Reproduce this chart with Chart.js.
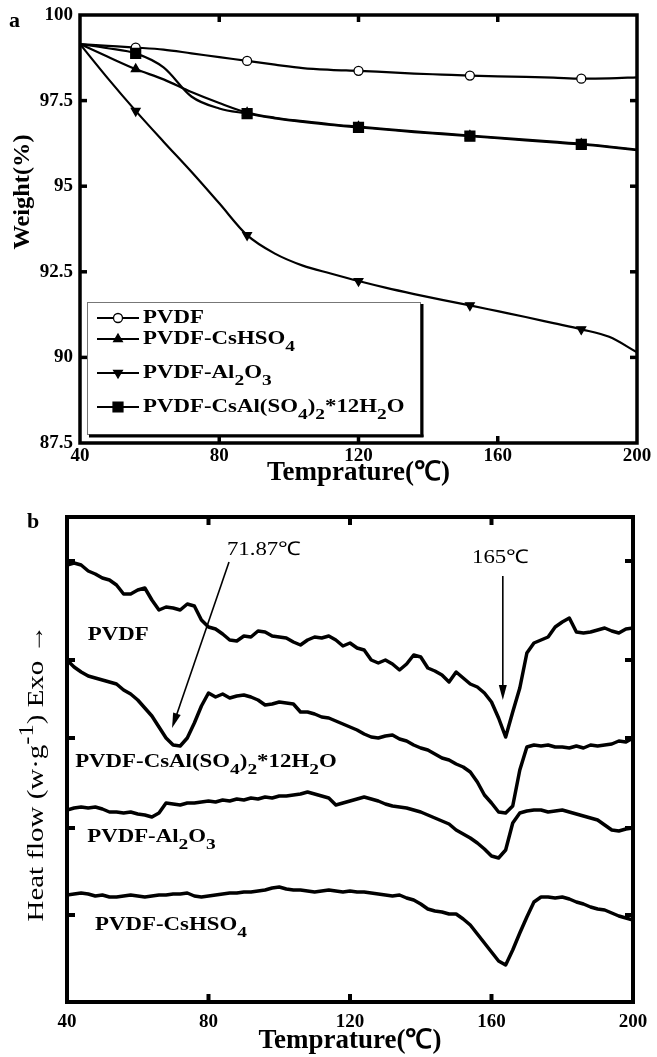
<!DOCTYPE html>
<html><head><meta charset="utf-8">
<script src="https://cdn.jsdelivr.net/npm/chart.js@4.4.0/dist/chart.umd.min.js"></script>
<style>
html,body{margin:0;padding:0;background:#fff;}
#wa{position:absolute;left:0;top:0;width:657px;height:500px;}
#wb{position:absolute;left:0;top:500px;width:657px;height:557px;}
</style></head><body>
<div id="wa"><canvas id="ca" width="657" height="500"></canvas></div>
<div id="wb"><canvas id="cb" width="657" height="557"></canvas></div>
<script>
// ---------- Panel a: TGA (Weight %) ----------
const tempA = [40,48,56,64,72,80,88,96,104,112,120,128,136,144,152,160,168,176,184,192,200];
const wPVDF   = [99.15,99.10,99.05,98.99,98.88,98.77,98.66,98.55,98.45,98.40,98.37,98.33,98.29,98.26,98.23,98.21,98.19,98.17,98.14,98.15,98.18];
const wCsHSO4 = [99.15,98.78,98.42,98.12,97.75,97.43,97.15,97.00,96.90,96.81,96.74,96.67,96.60,96.54,96.48,96.42,96.36,96.30,96.24,96.16,96.07];
const wAl2O3  = [99.15,98.15,97.20,96.30,95.42,94.50,93.57,93.03,92.68,92.45,92.23,92.03,91.85,91.68,91.52,91.35,91.18,91.00,90.82,90.60,90.15];
const wCsAl   = [99.15,99.03,98.88,98.47,97.62,97.27,97.12,96.98,96.88,96.79,96.72,96.65,96.58,96.52,96.46,96.40,96.34,96.28,96.22,96.14,96.05];
const markerTemps = [56,88,120,152,184];
const xTickVals = [40,80,120,160,200];
const yTickValsA = [87.5,90,92.5,95,97.5,100];

// ---------- Panel b: DSC (heat flow, arbitrary offset units) ----------
const tempB = [40,42,44,46,48,50,52,54,56,58,60,62,64,66,68,70,72,74,76,78,
  80,82,84,86,88,90,92,94,96,98,100,102,104,106,108,110,112,114,116,118,
  120,122,124,126,128,130,132,134,136,138,140,142,144,146,148,150,152,154,156,158,
  160,162,164,166,168,170,172,174,176,178,180,182,184,186,188,190,192,194,196,198,200];
const hfPVDF = [87.4,87.8,87.4,86.2,85.6,84.8,84.4,83.4,81.6,81.6,
  82.4,82.8,80.4,78.4,79.0,78.8,78.4,79.6,79.2,76.4,
  75.0,74.6,73.6,72.4,72.2,73.2,73.0,74.2,74.0,73.2,
  73.0,72.8,72.0,71.4,72.4,73.0,72.8,73.2,72.4,71.2,
  71.8,70.8,70.4,68.4,67.8,68.4,67.6,66.4,67.6,69.4,
  69.0,66.8,66.2,65.4,64.0,66.0,64.8,63.6,63.0,61.8,
  60.0,56.8,53.0,58.0,62.8,69.8,71.8,72.4,73.0,75.0,
  76.0,76.8,74.0,73.8,74.0,74.4,74.8,74.2,73.8,74.6,74.8];
const hfCsAl = [68.4,67.0,66.0,65.2,64.8,64.4,64.0,63.6,62.4,61.6,
  60.4,58.8,57.2,55.0,52.8,51.4,51.2,52.8,55.8,59.2,
  61.8,61.0,61.6,60.8,61.2,61.4,61.0,60.4,59.4,59.6,
  60.0,59.8,59.6,58.0,58.0,57.6,57.0,56.8,56.2,55.6,
  55.0,54.4,53.6,53.0,52.8,53.2,53.4,52.6,52.2,51.4,
  50.8,50.4,49.6,48.8,48.4,47.6,47.0,46.0,44.0,41.4,
  39.8,38.0,37.8,39.2,46.4,51.0,51.4,51.2,51.4,51.0,
  51.0,50.8,51.2,50.8,51.4,51.2,51.4,51.6,52.2,52.0,52.8];
const hfAl2O3 = [38.4,38.8,39.0,38.8,39.0,38.6,38.0,38.0,37.8,38.0,
  37.6,37.4,37.0,37.8,39.8,39.6,39.4,39.8,39.8,40.0,
  40.2,40.0,40.4,40.2,40.6,40.4,40.8,40.6,41.0,40.8,
  41.2,41.2,41.4,41.6,42.0,41.6,41.2,40.8,39.4,39.8,
  40.2,40.6,41.0,40.6,40.2,39.6,39.2,39.0,38.8,38.4,
  38.0,37.4,36.8,36.2,35.6,34.4,33.6,32.8,31.8,30.6,
  29.2,28.8,30.4,35.8,37.8,38.2,38.4,38.4,38.0,38.2,
  38.4,38.0,37.6,37.2,36.8,36.4,35.4,34.4,34.2,34.6,34.8];
const hfCsHSO4 = [21.4,21.6,21.8,21.6,21.2,21.4,21.0,21.0,21.2,21.4,
  21.2,21.0,21.2,21.4,21.4,21.6,21.6,21.8,21.2,21.0,
  21.2,21.4,21.6,21.8,21.8,22.0,22.0,22.2,22.4,22.8,
  23.0,22.6,22.4,22.4,22.2,22.0,22.2,22.4,22.2,22.0,
  22.2,22.0,22.0,21.8,21.6,21.4,21.2,21.4,20.8,20.4,
  19.6,18.6,18.2,18.0,17.6,17.6,16.6,15.4,13.6,11.8,
  10.0,8.2,7.4,10.4,13.8,17.0,20.0,21.0,21.0,20.8,
  21.0,20.6,20.0,19.6,19.0,18.6,18.4,17.8,17.2,16.8,16.4];
const yTickValsB = [17.4,34.8,52.8,68.4,88.2];

// annotation anchors (data units of panel b)
const arrow1 = {from:[85.8,88.0], to:[69.7,54.8], label:'71.87℃', labelAt:[85.2,90.4]};
const arrow2 = {from:[163.2,85.2], to:[163.2,60.4], label:'165℃', labelAt:[154.5,88.8]};

// ---------- text helpers ----------
const SERIF = '"Liberation Serif", "Times New Roman", serif';
function partSize(p, size){ return (p.sub||p.sup) ? size*0.85 : size; }
function richWidth(ctx, parts, size, weight){
  let w = 0;
  parts.forEach(p => { ctx.font = weight+' '+partSize(p,size)+'px '+SERIF; w += ctx.measureText(p.t).width; });
  return w;
}
function drawRich(ctx, parts, x, y, o){
  ctx.save();
  ctx.translate(x, y);
  if (o.rot) ctx.rotate(-Math.PI/2);
  const w = richWidth(ctx, parts, o.size, o.weight);
  const sx = o.fit ? o.fit / w : (o.sx || 1);
  ctx.scale(sx, 1);
  let cx = o.align === 'center' ? -w/2 : 0;
  ctx.textBaseline = 'middle'; ctx.textAlign = 'left'; ctx.fillStyle = '#000';
  parts.forEach(p => {
    ctx.font = o.weight+' '+partSize(p,o.size)+'px '+SERIF;
    const dy = p.sub ? o.size*0.45 : (p.sup ? -o.size*0.38 : 0);
    ctx.fillText(p.t, cx, dy);
    cx += ctx.measureText(p.t).width;
  });
  ctx.restore();
}
function line(ctx, x1, y1, x2, y2){ ctx.beginPath(); ctx.moveTo(x1,y1); ctx.lineTo(x2,y2); ctx.stroke(); }
function drawFrame(chart, fw, tl, tw){
  const {ctx, chartArea:{left,right,top,bottom}} = chart;
  const xs = chart.scales.x, ys = chart.scales.y;
  ctx.save();
  ctx.strokeStyle = '#000'; ctx.lineCap = 'butt';
  ctx.lineWidth = tw;
  xs.ticks.forEach(t => {
    if (t.value <= xs.min || t.value >= xs.max) return;
    const p = xs.getPixelForValue(t.value);
    line(ctx, p, bottom, p, bottom - tl); line(ctx, p, top, p, top + tl);
  });
  ys.ticks.forEach(t => {
    if (t.value <= ys.min || t.value >= ys.max) return;
    const p = ys.getPixelForValue(t.value);
    line(ctx, left, p, left + tl, p); line(ctx, right, p, right - tl, p);
  });
  ctx.lineWidth = fw;
  ctx.strokeRect(left, top, right-left, bottom-top);
  ctx.restore();
}
function zeroPad(s){ s.paddingTop = 0; s.paddingBottom = 0; s.paddingLeft = 0; s.paddingRight = 0; }

// ---------- Panel a chart ----------
const seriesA = [
  {parts:[{t:'PVDF'}], data:wPVDF, style:'circle', rot:0, r:4.5, fill:'#fff', order:3},
  {parts:[{t:'PVDF-CsHSO'},{t:'4',sub:1}], data:wCsHSO4, style:'triangle', rot:0, r:5, fill:'#000', order:2},
  {parts:[{t:'PVDF-Al'},{t:'2',sub:1},{t:'O'},{t:'3',sub:1}], data:wAl2O3, style:'triangle', rot:180, r:5, fill:'#000', order:1},
  {parts:[{t:'PVDF-CsAl(SO'},{t:'4',sub:1},{t:')'},{t:'2',sub:1},{t:'*12H'},{t:'2',sub:1},{t:'O'}], data:wCsAl, style:'rect', rot:0, r:7, fill:'#000', order:0}
];
const legendRowsY = [318, 339, 373, 407];

const pluginA = {
  id: 'annotA',
  afterDatasetsDraw(chart){
    const ctx = chart.ctx;
    drawFrame(chart, 3.5, 7, 3.5);
    ctx.save();
    ctx.fillStyle = '#fff'; ctx.fillRect(87, 302, 335, 134);
    ctx.strokeStyle = '#777'; ctx.lineWidth = 1; ctx.strokeRect(87.5, 302.5, 333, 132);
    ctx.strokeStyle = '#000'; ctx.lineWidth = 3;
    line(ctx, 422, 304, 422, 437); line(ctx, 89, 436, 423.5, 436);
    seriesA.forEach((s, i) => {
      const y = legendRowsY[i];
      ctx.strokeStyle = '#000'; ctx.lineWidth = 2.2;
      line(ctx, 97, y, 139, y);
      ctx.fillStyle = s.fill; ctx.strokeStyle = '#000'; ctx.lineWidth = 1.3;
      Chart.helpers.drawPoint(ctx, {pointStyle:s.style, rotation:s.rot, radius:s.r, borderWidth:1.3}, 118, y);
      drawRich(ctx, s.parts, 143, y, {size:18, weight:'bold', sx:1.27});
    });
    ctx.restore();
    drawRich(ctx, [{t:'Weight(%)'}], 23, 192, {size:23, weight:'bold', rot:true, align:'center', fit:115});
    drawRich(ctx, [{t:'a'}], 9, 21, {size:22, weight:'bold'});
  }
};

new Chart(document.getElementById('ca'), {
  type: 'line',
  data: {
    datasets: seriesA.map(s => ({
      data: tempA.map((t,i) => ({x:t, y:s.data[i]})),
      borderColor: '#000', borderWidth: 2.2, backgroundColor: s.fill,
      pointStyle: s.style, pointRotation: s.rot,
      pointBorderColor: '#000', pointBorderWidth: 1.3,
      pointRadius: c => markerTemps.includes(tempA[c.dataIndex]) ? s.r : 0,
      cubicInterpolationMode: 'monotone', fill: false, order: s.order
    }))
  },
  options: {
    responsive: false, animation: false, events: [],
    layout: {padding: {top:15, right:20, left:0, bottom:0}},
    plugins: {legend:{display:false}, tooltip:{enabled:false}},
    scales: {
      x: {
        type:'linear', min:40, max:200,
        grid:{display:false, drawTicks:false}, border:{display:false},
        afterBuildTicks: s => { s.ticks = xTickVals.map(v => ({value:v})); },
        ticks:{padding:2, color:'#000', font:{family:SERIF, size:19, weight:'bold'}},
        title:{display:true, text:'Temprature(℃)', color:'#000', padding:{top:0,bottom:11}, font:{family:SERIF, size:27, weight:'bold'}},
        afterFit: s => { s.height = 57; zeroPad(s); }
      },
      y: {
        min:87.5, max:100,
        grid:{display:false, drawTicks:false}, border:{display:false},
        afterBuildTicks: s => { s.ticks = yTickValsA.map(v => ({value:v})); },
        ticks:{padding:7, color:'#000', font:{family:SERIF, size:19, weight:'bold'}},
        afterFit: s => { s.width = 80; zeroPad(s); }
      }
    }
  },
  plugins: [pluginA]
});

// ---------- Panel b chart ----------
const seriesB = [
  {data:hfPVDF, parts:[{t:'PVDF'}], at:[45.9,73.4]},
  {data:hfCsAl, parts:[{t:'PVDF-CsAl(SO'},{t:'4',sub:1},{t:')'},{t:'2',sub:1},{t:'*12H'},{t:'2',sub:1},{t:'O'}], at:[42.3,48.0]},
  {data:hfAl2O3, parts:[{t:'PVDF-Al'},{t:'2',sub:1},{t:'O'},{t:'3',sub:1}], at:[45.7,33.0]},
  {data:hfCsHSO4, parts:[{t:'PVDF-CsHSO'},{t:'4',sub:1}], at:[47.9,15.4]}
];
function drawArrow(ctx, xs, ys, a){
  const x1 = xs.getPixelForValue(a.from[0]), y1 = ys.getPixelForValue(a.from[1]);
  const x2 = xs.getPixelForValue(a.to[0]), y2 = ys.getPixelForValue(a.to[1]);
  const ang = Math.atan2(y2-y1, x2-x1), hl = 15, hw = 4;
  ctx.save();
  ctx.strokeStyle = '#000'; ctx.fillStyle = '#000'; ctx.lineWidth = 1.6;
  const bx = x2 - hl*Math.cos(ang), by = y2 - hl*Math.sin(ang);
  line(ctx, x1, y1, bx + 2*Math.cos(ang), by + 2*Math.sin(ang));
  ctx.beginPath();
  ctx.moveTo(x2, y2);
  ctx.lineTo(bx + hw*Math.sin(ang), by - hw*Math.cos(ang));
  ctx.lineTo(bx - hw*Math.sin(ang), by + hw*Math.cos(ang));
  ctx.closePath(); ctx.fill();
  ctx.restore();
  drawRich(ctx, [{t:a.label}], xs.getPixelForValue(a.labelAt[0]), ys.getPixelForValue(a.labelAt[1]), {size:19, weight:'normal', sx:1.2});
}
const pluginB = {
  id: 'annotB',
  afterDatasetsDraw(chart){
    const ctx = chart.ctx, xs = chart.scales.x, ys = chart.scales.y;
    drawFrame(chart, 4, 8, 4);
    drawArrow(ctx, xs, ys, arrow1);
    drawArrow(ctx, xs, ys, arrow2);
    seriesB.forEach(s => drawRich(ctx, s.parts, xs.getPixelForValue(s.at[0]), ys.getPixelForValue(s.at[1]), {size:18, weight:'bold', sx:1.27}));
    drawRich(ctx, [{t:'Heat flow (w·g'},{t:'-1',sup:1},{t:') Exo '},{t:'→'}], 37, 273, {size:24, weight:'normal', rot:true, align:'center', fit:297});
    drawRich(ctx, [{t:'b'}], 27, 22, {size:22, weight:'bold'});
  }
};

new Chart(document.getElementById('cb'), {
  type: 'line',
  data: {
    datasets: seriesB.map(s => ({
      data: tempB.map((t,i) => ({x:t, y:s.data[i]})),
      borderColor: '#000', borderWidth: 3.5, borderJoinStyle: 'round',
      pointRadius: 0, tension: 0, fill: false
    }))
  },
  options: {
    responsive: false, animation: false, events: [],
    layout: {padding: {top:17, right:24, left:0, bottom:0}},
    plugins: {legend:{display:false}, tooltip:{enabled:false}},
    scales: {
      x: {
        type:'linear', min:40, max:200,
        grid:{display:false, drawTicks:false}, border:{display:false},
        afterBuildTicks: s => { s.ticks = xTickVals.map(v => ({value:v})); },
        ticks:{padding:9, color:'#000', font:{family:SERIF, size:19, weight:'bold'}},
        title:{display:true, text:'Temprature(℃)', color:'#000', padding:{top:0,bottom:0}, font:{family:SERIF, size:27, weight:'bold'}},
        afterFit: s => { s.height = 55; zeroPad(s); }
      },
      y: {
        min:0, max:97,
        grid:{display:false, drawTicks:false}, border:{display:false},
        afterBuildTicks: s => { s.ticks = yTickValsB.map(v => ({value:v})); },
        ticks:{display:false},
        afterFit: s => { s.width = 67; zeroPad(s); }
      }
    }
  },
  plugins: [pluginB]
});
</script>
</body></html>
